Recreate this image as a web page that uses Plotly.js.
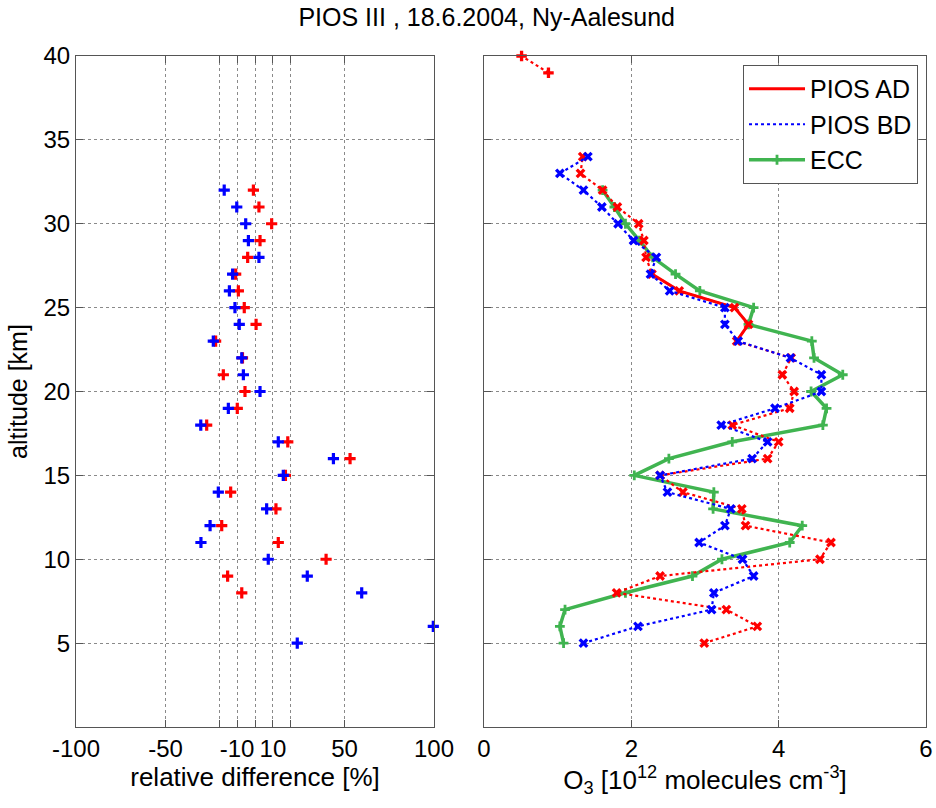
<!DOCTYPE html>
<html>
<head>
<meta charset="utf-8">
<script src="https://cdn.plot.ly/plotly-3.0.1.min.js"></script>
<style>html,body{margin:0;padding:0;background:#fff;}#chart{width:936px;height:808px;}</style>
</head>
<body>
<div id="chart"></div>
<script>
// Altitudes [km] for the right panel (profiles)
const altitude = [5,6,7,8,9,10,11,12,13,14,15,16,17,18,19,20,21,22,23,24,25,26,27,28,29,30,31,32,33,34,35,36,37,38,39,40];
// O3 number density [10^12 molecules cm^-3]
const piosAD = [2.99,3.71,3.29,1.80,2.39,4.56,4.71,3.55,3.50,2.70,2.39,3.85,4.00,3.37,4.15,4.21,4.05,4.17,3.43,3.59,3.40,2.65,2.28,2.20,2.17,2.10,1.81,1.61,1.31,1.34,null,null,null,null,0.875,0.51];
const piosBD = [1.35,2.09,3.09,3.12,3.66,3.51,2.92,3.27,3.35,2.49,2.39,3.64,3.85,3.22,3.95,4.58,4.58,4.16,3.45,3.27,3.27,2.52,2.26,2.34,2.03,1.82,1.60,1.35,1.03,1.41,null,null,null,null,null,null];
const ecc    = [1.08,1.03,1.10,1.92,2.83,3.23,4.15,4.32,3.11,3.12,2.04,2.51,3.37,4.60,4.65,4.44,4.87,4.48,4.45,3.59,3.66,2.93,2.60,2.29,2.11,1.92,1.77,1.61,null,null,null,null,null,null,null,null];

// Relative differences [%] for the left panel
const diffAltitude = [5,6,7,8,9,10,11,12,13,14,15,16,17,18,19,20,21,22,23,24,25,26,27,28,29,30,31,32];
const diffAD = [null,null,null,-7.4,-15.3,39.7,13.0,-18.6,11.7,-13.6,17.0,53.1,18.3,-27.0,-9.9,-5.6,-17.7,-7.0,-22.0,0.6,-6.0,-9.3,-10.8,-4.1,2.8,9.3,2.2,-0.9];
const diffBD = [23.6,99.6,null,59.6,29.2,7.4,-30.2,-25.1,6.5,-20.5,15.8,43.8,13.0,-30.3,-14.9,2.8,-6.5,-7.4,-23.3,-8.8,-11.2,-14.3,-12.5,2.2,-3.7,-5.2,-10.2,-17.2];

// Tick labels
const diffTickVals = [-100,-50,-10,10,50,100];
const diffTickText = ['-100','-50','-10','10','50','100'];
const diffMinorVals = [-20,0,20];
const altTickVals = [5,10,15,20,25,30,35,40];
const o3TickVals = [0,2,4,6];

const RED = 'rgb(255,0,0)';
const BLUE = 'rgb(0,0,255)';
const GREEN = 'rgb(64,180,80)';

// solid PIOS AD segment (23-27 km)
const solidAlt = [], solidAD = [];
altitude.forEach((a, i) => { if (a >= 23 && a <= 27) { solidAlt.push(a); solidAD.push(piosAD[i]); } });
const adSymbols = altitude.map(a => a > 35 ? 'cross-thin' : 'x-thin');

const traces = [
  // left panel
  {x: diffAD, y: diffAltitude, xaxis: 'x', yaxis: 'y', mode: 'markers', showlegend: false, cliponaxis: false,
   marker: {symbol: 'cross-thin', size: 8, color: RED, line: {color: RED, width: 3.2}}},
  {x: diffBD, y: diffAltitude, xaxis: 'x', yaxis: 'y', mode: 'markers', showlegend: false, cliponaxis: false,
   marker: {symbol: 'cross-thin', size: 8, color: BLUE, line: {color: BLUE, width: 3.2}}},
  // right panel
  {x: ecc, y: altitude, xaxis: 'x2', yaxis: 'y2', mode: 'lines+markers', name: 'ECC', legendrank: 3, cliponaxis: false,
   line: {color: GREEN, width: 3.5}, marker: {symbol: 'cross-thin', size: 7, color: GREEN, line: {color: GREEN, width: 2.8}}},
  {x: piosAD, y: altitude, xaxis: 'x2', yaxis: 'y2', mode: 'lines+markers', showlegend: false, cliponaxis: false, connectgaps: false,
   line: {color: RED, width: 2.2, dash: 'dot'}, marker: {symbol: adSymbols, size: 7.5, color: RED, line: {color: RED, width: 3.3}}},
  {x: solidAD, y: solidAlt, xaxis: 'x2', yaxis: 'y2', mode: 'lines', name: 'PIOS AD', legendrank: 1,
   line: {color: RED, width: 3}},
  {x: piosBD, y: altitude, xaxis: 'x2', yaxis: 'y2', mode: 'lines', name: 'PIOS BD', legendrank: 2,
   line: {color: BLUE, width: 2.2, dash: 'dot'}},
  {x: piosBD, y: altitude, xaxis: 'x2', yaxis: 'y2', mode: 'markers', showlegend: false, cliponaxis: false,
   marker: {symbol: 'x-thin', size: 7.5, color: BLUE, line: {color: BLUE, width: 3.3}}}
];

const FONT = 'Liberation Sans, Arial, Helvetica, sans-serif';
const axisCommon = {
  showline: true, linecolor: '#555', linewidth: 1, mirror: 'ticks',
  ticks: 'inside', ticklen: 7, tickcolor: '#555',
  showgrid: true, gridcolor: '#8a8a8a', griddash: 'dot', gridwidth: 1,
  zeroline: false, tickfont: {size: 24, color: '#000', family: FONT}
};

const layout = {
  width: 936, height: 808,
  margin: {l: 76, r: 10, t: 56, b: 81},
  paper_bgcolor: '#fff', plot_bgcolor: '#fff',
  font: {family: FONT, color: '#000', size: 24},
  title: {text: 'PIOS III , 18.6.2004, Ny-Aalesund', x: 0.52, xanchor: 'center', y: 0.979, yanchor: 'middle',
          font: {size: 25, family: FONT, color: '#000'}},
  xaxis: Object.assign({}, axisCommon, {domain: [0, 0.4212], range: [-100, 100], tickmode: 'array',
          tickvals: diffTickVals, ticktext: diffTickText, anchor: 'y',
          minor: {tickmode: 'array', tickvals: diffMinorVals, ticks: 'inside', ticklen: 7, tickcolor: '#555',
                  showgrid: true, gridcolor: '#8a8a8a', griddash: 'dot', gridwidth: 1},
          title: {text: 'relative difference [%]', font: {size: 26}, standoff: 2}}),
  yaxis: Object.assign({}, axisCommon, {domain: [0, 1], range: [0, 40], tickmode: 'array',
          tickvals: altTickVals, anchor: 'x',
          title: {text: 'altitude [km]', font: {size: 25}, standoff: 8}}),
  xaxis2: Object.assign({}, axisCommon, {domain: [0.48, 1], range: [0, 6], tickmode: 'array',
          tickvals: o3TickVals, anchor: 'y2',
          title: {text: 'O<sub>3</sub> [10<sup>12</sup> molecules cm<sup>-3</sup>]', font: {size: 26}, standoff: 4}}),
  yaxis2: Object.assign({}, axisCommon, {domain: [0, 1], range: [0, 40], tickmode: 'array',
          tickvals: altTickVals, showticklabels: false, anchor: 'x2'}),
  legend: {x: 0.9906, y: 0.9866, xanchor: 'right', yanchor: 'top', bgcolor: '#fff', itemwidth: 56,
           bordercolor: '#555', borderwidth: 1, font: {size: 25, color: '#000'}, traceorder: 'normal'},
  showlegend: true
};

Plotly.newPlot('chart', traces, layout, {displayModeBar: false, staticPlot: true});
</script>
</body>
</html>
